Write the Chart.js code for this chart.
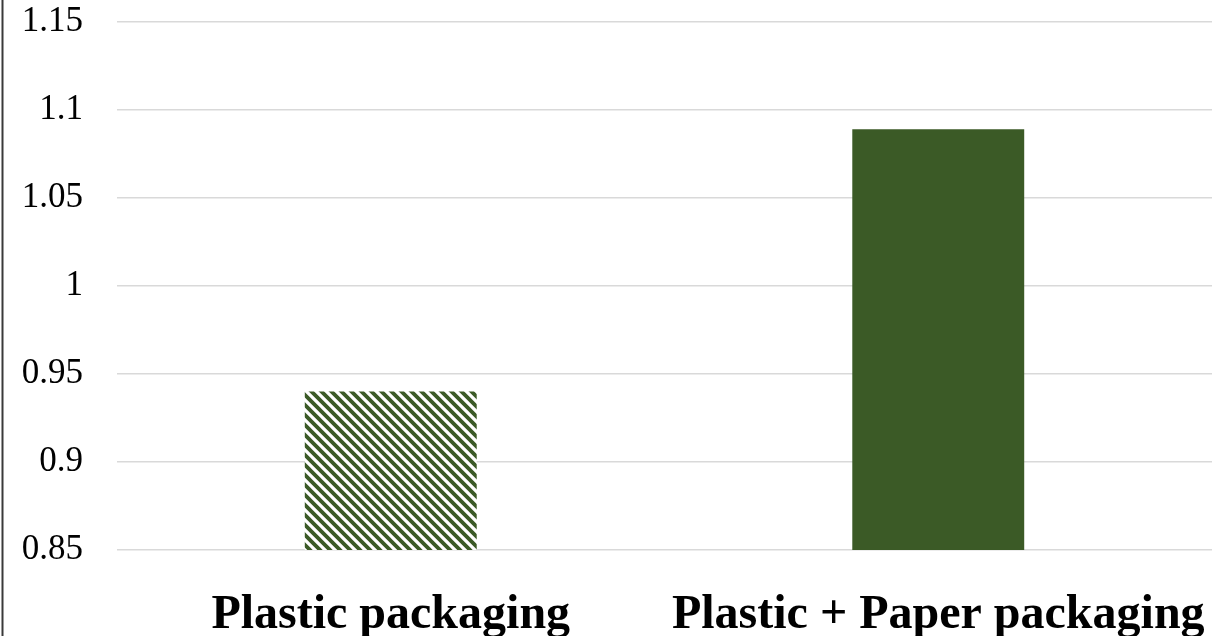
<!DOCTYPE html>
<html>
<head>
<meta charset="utf-8">
<title>Packaging comparison</title>
<script src="https://cdn.jsdelivr.net/npm/chart.js@4.4.1/dist/chart.umd.min.js"></script>
<style>
  html, body { margin: 0; padding: 0; background: #ffffff; }
  #wrap { width: 1226px; height: 636px; position: relative; }
  canvas { display: block; }
</style>
</head>
<body>
<div id="wrap"><canvas id="chart" width="1226" height="636"></canvas></div>
<script>
// Categories and values
const categories = ['Plastic packaging', 'Plastic + Paper packaging'];
const values = [0.94, 1.089];
const yTickValues = [0.85, 0.9, 0.95, 1, 1.05, 1.1, 1.15];

const green = '#3b5a26';
const serif = '"Liberation Serif", "Times New Roman", serif';

// Diagonal hatch for the first bar
function makeHatch() {
  const s = 10;
  const c = document.createElement('canvas');
  c.width = s; c.height = s;
  const g = c.getContext('2d');
  g.fillStyle = '#ffffff';
  g.fillRect(0, 0, s, s);
  g.strokeStyle = green;
  g.lineWidth = 3.8;
  g.beginPath();
  g.moveTo(-s, -s); g.lineTo(2 * s, 2 * s);
  g.moveTo(-s, 0); g.lineTo(s, 2 * s);
  g.moveTo(0, -s); g.lineTo(2 * s, s);
  g.stroke();
  return document.getElementById('chart').getContext('2d').createPattern(c, 'repeat');
}

// Thin frame line down the left edge
const leftEdge = {
  id: 'leftEdge',
  afterDraw(chart) {
    const ctx = chart.ctx;
    ctx.save();
    ctx.strokeStyle = '#3a3a3a';
    ctx.lineWidth = 2;
    ctx.beginPath();
    ctx.moveTo(2.5, 0);
    ctx.lineTo(2.5, chart.height);
    ctx.stroke();
    ctx.restore();
  }
};

new Chart(document.getElementById('chart'), {
  type: 'bar',
  data: {
    labels: categories,
    datasets: [{
      data: values,
      backgroundColor: [makeHatch(), green],
      borderWidth: 0,
      barPercentage: 0.314,
      categoryPercentage: 1.0
    }]
  },
  options: {
    responsive: false,
    animation: false,
    layout: { padding: { left: 0, right: 14, top: 22, bottom: 0 } },
    plugins: {
      legend: { display: false },
      tooltip: { enabled: false }
    },
    scales: {
      x: {
        grid: { display: false },
        border: { display: false },
        ticks: {
          color: '#000000',
          padding: 29,
          font: { family: serif, size: 48, weight: 'bold' },
          maxRotation: 0,
          autoSkip: false
        },
        afterFit(scale) {
          scale.height = 86;
          scale.paddingLeft = 0;
          scale.paddingRight = 0;
        }
      },
      y: {
        min: 0.85,
        max: 1.15,
        border: { display: false },
        grid: { color: '#d9d9d9', lineWidth: 1.5, drawTicks: false },
        afterBuildTicks(scale) {
          scale.ticks = yTickValues.map(v => ({ value: v }));
        },
        ticks: {
          color: '#000000',
          padding: 34,
          font: { family: serif, size: 35 },
          callback: (v) => String(+Number(v).toFixed(2))
        },
        afterFit(scale) {
          scale.width = 117;
          scale.paddingTop = 0;
          scale.paddingBottom = 0;
        }
      }
    }
  },
  plugins: [leftEdge]
});
</script>
</body>
</html>
